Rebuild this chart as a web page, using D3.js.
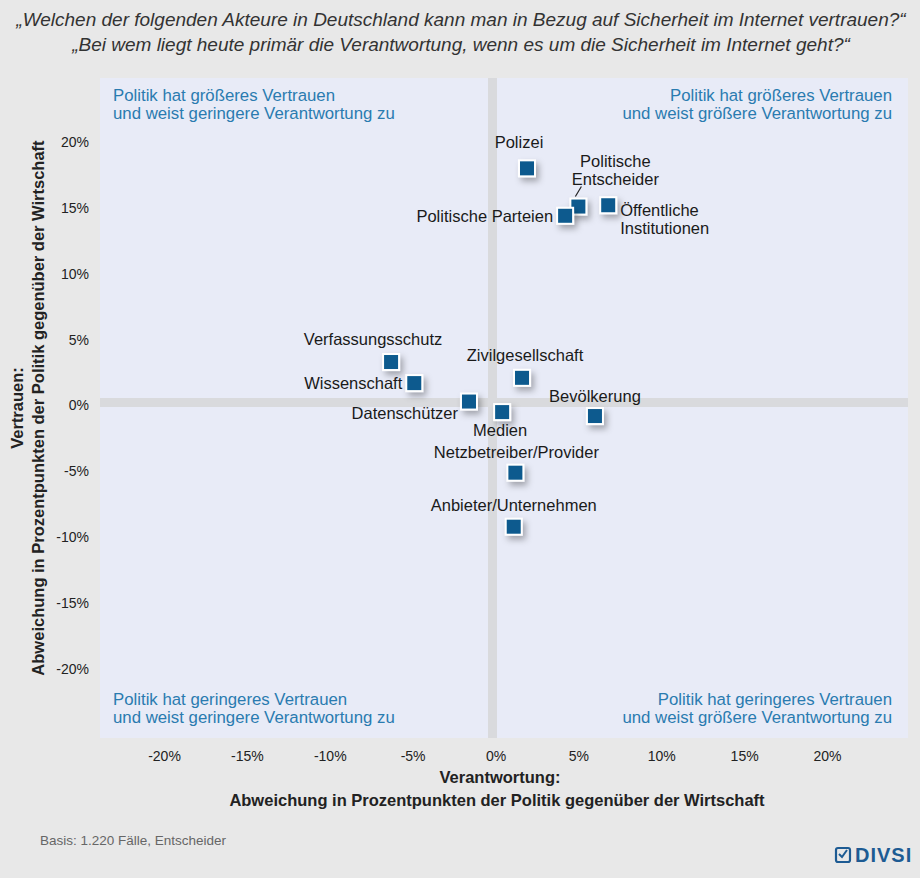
<!DOCTYPE html>
<html>
<head>
<meta charset="utf-8">
<script src="https://cdn.jsdelivr.net/npm/d3@7"></script>
<style>
body { margin: 0; background: #e8e8e8; }
svg { display: block; font-family: "Liberation Sans", Arial, sans-serif; }
</style>
</head>
<body>
<svg id="chart" width="920" height="878"></svg>
<script>
// data
var actors = ['Polizei', 'Politische Entscheider', 'Politische Parteien', 'Öffentliche Institutionen',
	'Verfassungsschutz', 'Wissenschaft', 'Datenschützer', 'Zivilgesellschaft', 'Medien',
	'Bevölkerung', 'Netzbetreiber/Provider', 'Anbieter/Unternehmen'];
var verantwortung = [1.9, 5.0, 4.2, 6.8, -6.3, -4.9, -1.6, 1.6, 0.4, 6.0, 1.2, 1.1];
var vertrauen = [18.0, 15.1, 14.4, 15.2, 3.3, 1.7, 0.3, 2.1, -0.5, -0.8, -5.1, -9.2];
var ticks = [-20, -15, -10, -5, 0, 5, 10, 15, 20];

// label placement (dx, dy, anchor, lines)
var labelPos = [
	[-8, -20, 'middle', ['Polizei']],
	[37, -40, 'middle', ['Politische', 'Entscheider']],
	[-12, 6, 'end', ['Politische Parteien']],
	[12, 11, 'start', ['Öffentliche', 'Institutionen']],
	[-18, -17, 'middle', ['Verfassungsschutz']],
	[-12, 6, 'end', ['Wissenschaft']],
	[-11, 17, 'end', ['Datenschützer']],
	[3, -17, 'middle', ['Zivilgesellschaft']],
	[-2, 24, 'middle', ['Medien']],
	[0, -14, 'middle', ['Bevölkerung']],
	[1, -15, 'middle', ['Netzbetreiber/Provider']],
	[0, -16, 'middle', ['Anbieter/Unternehmen']]
];

var svg = d3.select('#chart');
var pLeft = 100, pRight = 908, pTop = 78, pBottom = 738;

var x = d3.scaleLinear().domain([-20, 20]).range([164, 827]);
var y = d3.scaleLinear().domain([-20, 20]).range([669, 142]);

var defs = svg.append('defs');
var f = defs.append('filter').attr('id', 'sh').attr('x', '-50%').attr('y', '-50%').attr('width', '250%').attr('height', '250%');
f.append('feDropShadow').attr('dx', 3).attr('dy', 4).attr('stdDeviation', 3).attr('flood-color', '#000').attr('flood-opacity', 0.3);

// title
svg.append('text').attr('x', 461).attr('y', 26).attr('text-anchor', 'middle')
	.attr('font-size', 19).attr('font-style', 'italic').attr('fill', '#333')
	.text('„Welchen der folgenden Akteure in Deutschland kann man in Bezug auf Sicherheit im Internet vertrauen?“');
svg.append('text').attr('x', 461).attr('y', 51).attr('text-anchor', 'middle')
	.attr('font-size', 19).attr('font-style', 'italic').attr('fill', '#333')
	.text('„Bei wem liegt heute primär die Verantwortung, wenn es um die Sicherheit im Internet geht?“');

// quadrants
var x0 = x(0) - 3, y0 = y(0) - 3, gap = 9;
svg.append('rect').attr('x', pLeft).attr('y', pTop).attr('width', pRight - pLeft).attr('height', pBottom - pTop).attr('fill', '#d9dadd');
var quads = [
	[pLeft, pTop, x0 - gap / 2 - pLeft, y0 - gap / 2 - pTop],
	[x0 + gap / 2, pTop, pRight - x0 - gap / 2, y0 - gap / 2 - pTop],
	[pLeft, y0 + gap / 2, x0 - gap / 2 - pLeft, pBottom - y0 - gap / 2],
	[x0 + gap / 2, y0 + gap / 2, pRight - x0 - gap / 2, pBottom - y0 - gap / 2]
];
svg.selectAll('rect.q').data(quads).enter().append('rect').attr('class', 'q')
	.attr('x', function (d) { return d[0]; }).attr('y', function (d) { return d[1]; })
	.attr('width', function (d) { return d[2]; }).attr('height', function (d) { return d[3]; })
	.attr('fill', '#e8ebf7');

var qText = [
	[113, 101, 'start', 'Politik hat größeres Vertrauen', 'und weist geringere Verantwortung zu'],
	[892, 101, 'end', 'Politik hat größeres Vertrauen', 'und weist größere Verantwortung zu'],
	[113, 705, 'start', 'Politik hat geringeres Vertrauen', 'und weist geringere Verantwortung zu'],
	[892, 705, 'end', 'Politik hat geringeres Vertrauen', 'und weist größere Verantwortung zu']
];
qText.forEach(function (q) {
	var t = svg.append('text').attr('x', q[0]).attr('y', q[1]).attr('text-anchor', q[2])
		.attr('font-size', 16.8).attr('fill', '#2a7bb0');
	t.append('tspan').attr('x', q[0]).text(q[3]);
	t.append('tspan').attr('x', q[0]).attr('dy', 18).text(q[4]);
});

// axes
var fmt = function (d) { return d + '%'; };
var ya = svg.append('g').attr('transform', 'translate(' + (pLeft - 8) + ',0)')
	.call(d3.axisLeft(y).tickValues(ticks).tickFormat(fmt).tickSize(0));
var xa = svg.append('g').attr('transform', 'translate(0,' + (pBottom + 10) + ')')
	.call(d3.axisBottom(x).tickValues(ticks).tickFormat(fmt).tickSize(0));
[ya, xa].forEach(function (a) {
	a.select('.domain').remove();
	a.selectAll('text').attr('font-size', 14).attr('fill', '#222')
		.attr('font-family', '"Liberation Sans", Arial, sans-serif');
});

svg.append('text').attr('x', 500).attr('y', 783).attr('text-anchor', 'middle')
	.attr('font-size', 16.5).attr('font-weight', 'bold').attr('fill', '#222').text('Verantwortung:');
svg.append('text').attr('x', 497).attr('y', 806).attr('text-anchor', 'middle')
	.attr('font-size', 16.5).attr('font-weight', 'bold').attr('fill', '#222')
	.text('Abweichung in Prozentpunkten der Politik gegenüber der Wirtschaft');
var yt = svg.append('text').attr('transform', 'translate(30,' + 408 + ') rotate(-90)')
	.attr('text-anchor', 'middle').attr('font-size', 16.5).attr('font-weight', 'bold').attr('fill', '#222');
yt.append('tspan').attr('x', 0).attr('y', -7).text('Vertrauen:');
yt.append('tspan').attr('x', 0).attr('y', 14).text('Abweichung in Prozentpunkten der Politik gegenüber der Wirtschaft');

// points
var pts = actors.map(function (a, i) {
	return { name: a, x: x(verantwortung[i]), y: y(vertrauen[i]), lp: labelPos[i] };
});
svg.selectAll('rect.pt').data(pts).enter().append('rect').attr('class', 'pt')
	.attr('x', function (d) { return d.x - 8; }).attr('y', function (d) { return d.y - 8; })
	.attr('width', 16).attr('height', 16)
	.attr('fill', '#0b5a8e').attr('stroke', '#fff').attr('stroke-width', 2)
	.attr('filter', 'url(#sh)');

pts.forEach(function (d) {
	var t = svg.append('text').attr('text-anchor', d.lp[2]).attr('font-size', 16.5).attr('fill', '#1a1a1a');
	d.lp[3].forEach(function (line, j) {
		t.append('tspan').attr('x', d.x + d.lp[0]).attr('y', d.y + d.lp[1] + j * 18).text(line);
	});
});
// leader line for Politische Entscheider
svg.append('line').attr('x1', pts[1].x - 3).attr('y1', pts[1].y - 10)
	.attr('x2', pts[1].x + 3).attr('y2', pts[1].y - 20).attr('stroke', '#222').attr('stroke-width', 1.2);

// footer
svg.append('text').attr('x', 40).attr('y', 845).attr('font-size', 13.5).attr('fill', '#666').text('Basis: 1.220 Fälle, Entscheider');
var logo = svg.append('g').attr('transform', 'translate(836,862)');
logo.append('rect').attr('x', 0).attr('y', -14).attr('width', 14).attr('height', 14).attr('rx', 2)
	.attr('fill', 'none').attr('stroke', '#1d5b93').attr('stroke-width', 2.2);
logo.append('path').attr('d', 'M3,-8 L6,-5 L11,-12').attr('fill', 'none').attr('stroke', '#1d5b93').attr('stroke-width', 2);
logo.append('text').attr('x', 19).attr('y', 0).attr('font-size', 20).attr('font-weight', 'bold')
	.attr('fill', '#1d5b93').attr('letter-spacing', 1).text('DIVSI');
</script>
</body>
</html>
